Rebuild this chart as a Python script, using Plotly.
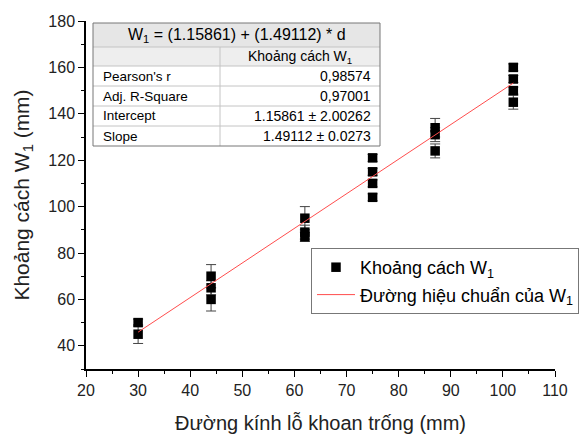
import plotly.graph_objects as go

# ---- data ----
diameter = [30, 30, 44, 44, 44, 62, 62, 62, 75, 75, 75, 75, 87, 87, 87, 102, 102, 102, 102]
distance_w1 = [50, 45, 70, 65, 60, 95, 89, 87, 121, 115, 110, 104, 134, 131, 124, 160, 155, 150, 145]
error_w1 = [1.5, 4, 5, 3, 5, 5, 3, 2, 1.5, 1.5, 1.5, 1.5, 4, 3, 3, 1.5, 1.5, 1.5, 3]

fit_intercept = 1.15861
fit_slope = 1.49112

table_title = "W<sub>1</sub> = (1.15861) + (1.49112) * d"
table_header = "Khoảng cách W<sub>1</sub>"
table_rows = ["Pearson's r", "Adj. R-Square", "Intercept", "Slope"]
table_values = ["0,98574", "0,97001", "1.15861 ± 2.00262", "1.49112 ± 0.0273"]

x_tickvals = [20, 30, 40, 50, 60, 70, 80, 90, 100, 110]
y_tickvals = [40, 60, 80, 100, 120, 140, 160, 180]

FONT = "Arial, Liberation Sans, sans-serif"

fit_x = [min(diameter), max(diameter)]
fit_y = [fit_intercept + fit_slope * v for v in fit_x]

fig = go.Figure()
fig.add_trace(go.Scatter(
    x=diameter, y=distance_w1, mode="markers",
    marker=dict(symbol="square", size=9.5, color="black"),
    error_y=dict(type="data", array=error_w1, visible=True, color="#444444", thickness=1, width=5),
    name="Khoảng cách W<sub>1</sub>", legendgroup="a",
))
fig.add_trace(go.Scatter(
    x=fit_x, y=fit_y, mode="lines",
    line=dict(color="#ff4d4d", width=1),
    name="Đường hiệu chuẩn của W<sub>1</sub>", legendgroup="b",
))

# ---- page geometry (page pixels; page body has an 8px margin) ----
OFF = 8
W, H = 587 - OFF, 434 - OFF
L, R, T, B = 86, 555, 21, 369
pw, ph = R - L, B - T

def px(xp):
    return (xp - L) / pw

def py(yp):
    return (B - yp) / ph

shapes = []
annotations = []

# stats table
tl, tr, tc = 93, 380, 220
rows_y = [23, 47, 66, 86, 106, 126, 146]
shapes.append(dict(type="rect", xref="paper", yref="paper", x0=px(tl), x1=px(tr), y0=py(rows_y[0]), y1=py(rows_y[1]),
                   fillcolor="#e6e6e6", line=dict(width=0), layer="above"))
shapes.append(dict(type="rect", xref="paper", yref="paper", x0=px(tl), x1=px(tr), y0=py(rows_y[1]), y1=py(rows_y[2]),
                   fillcolor="#eeeeee", line=dict(width=0), layer="above"))
shapes.append(dict(type="rect", xref="paper", yref="paper", x0=px(tl), x1=px(tr), y0=py(rows_y[2]), y1=py(rows_y[-1]),
                   fillcolor="white", line=dict(width=0), layer="above"))
for yy in rows_y[1:-1]:
    shapes.append(dict(type="line", xref="paper", yref="paper", x0=px(tl), x1=px(tr), y0=py(yy), y1=py(yy),
                       line=dict(color="#c4c4c4", width=1), layer="above"))
shapes.append(dict(type="line", xref="paper", yref="paper", x0=px(tc), x1=px(tc), y0=py(rows_y[1]), y1=py(rows_y[-1]),
                   line=dict(color="#c4c4c4", width=1), layer="above"))
shapes.append(dict(type="rect", xref="paper", yref="paper", x0=px(tl), x1=px(tr), y0=py(rows_y[0]), y1=py(rows_y[-1]),
                   fillcolor="rgba(0,0,0,0)", line=dict(color="#777777", width=1), layer="above"))

annotations.append(dict(xref="paper", yref="paper", x=px((tl + tr) / 2), y=py((rows_y[0] + rows_y[1]) / 2),
                        text=table_title, showarrow=False, font=dict(family=FONT, size=16, color="black"),
                        xanchor="center", yanchor="middle"))
annotations.append(dict(xref="paper", yref="paper", x=px((tc + tr) / 2), y=py((rows_y[1] + rows_y[2]) / 2),
                        text=table_header, showarrow=False, font=dict(family=FONT, size=14, color="black"),
                        xanchor="center", yanchor="middle"))
for i, (lab, val) in enumerate(zip(table_rows, table_values)):
    yc = (rows_y[i + 2] + rows_y[i + 3]) / 2
    annotations.append(dict(xref="paper", yref="paper", x=px(tl + 8), y=py(yc), text=lab, showarrow=False,
                            font=dict(family=FONT, size=13.5, color="black"), xanchor="left", yanchor="middle"))
    annotations.append(dict(xref="paper", yref="paper", x=px(tr - 7), y=py(yc), text=val, showarrow=False,
                            font=dict(family=FONT, size=14, color="black"), xanchor="right", yanchor="middle"))

axis_common = dict(
    showline=True, linecolor="black", linewidth=1.5, ticks="outside", ticklen=6, tickwidth=1.2,
    tickcolor="black", showgrid=False, zeroline=False, mirror=False,
    tickfont=dict(family=FONT, size=16, color="#222222"),
)

fig.update_layout(
    width=W, height=H,
    margin=dict(l=L - OFF, r=W - (R - OFF), t=T - OFF, b=H - (B - OFF), autoexpand=False),
    plot_bgcolor="white", paper_bgcolor="white",
    font=dict(family=FONT),
    xaxis=dict(range=[20, 110], tickvals=x_tickvals,
               minor=dict(dtick=5, ticks="outside", ticklen=3, tickcolor="black"),
               title=dict(text="Đường kính lỗ khoan trống (mm)", font=dict(family=FONT, size=20, color="#222222"), standoff=21),
               **axis_common),
    yaxis=dict(range=[30, 180], tickvals=y_tickvals,
               minor=dict(dtick=10, ticks="outside", ticklen=3, tickcolor="black"),
               title=dict(text="Khoảng cách W<sub>1</sub> (mm)", font=dict(family=FONT, size=21, color="#222222"), standoff=13),
               **axis_common),
    showlegend=True,
    legend=dict(x=px(311), y=py(248), xanchor="left", yanchor="top",
                bgcolor="white", bordercolor="#777777", borderwidth=1,
                font=dict(family=FONT, size=18, color="black"),
                tracegroupgap=1, traceorder="grouped", itemwidth=38),
    shapes=shapes, annotations=annotations,
)

fig.write_html("out.html")
